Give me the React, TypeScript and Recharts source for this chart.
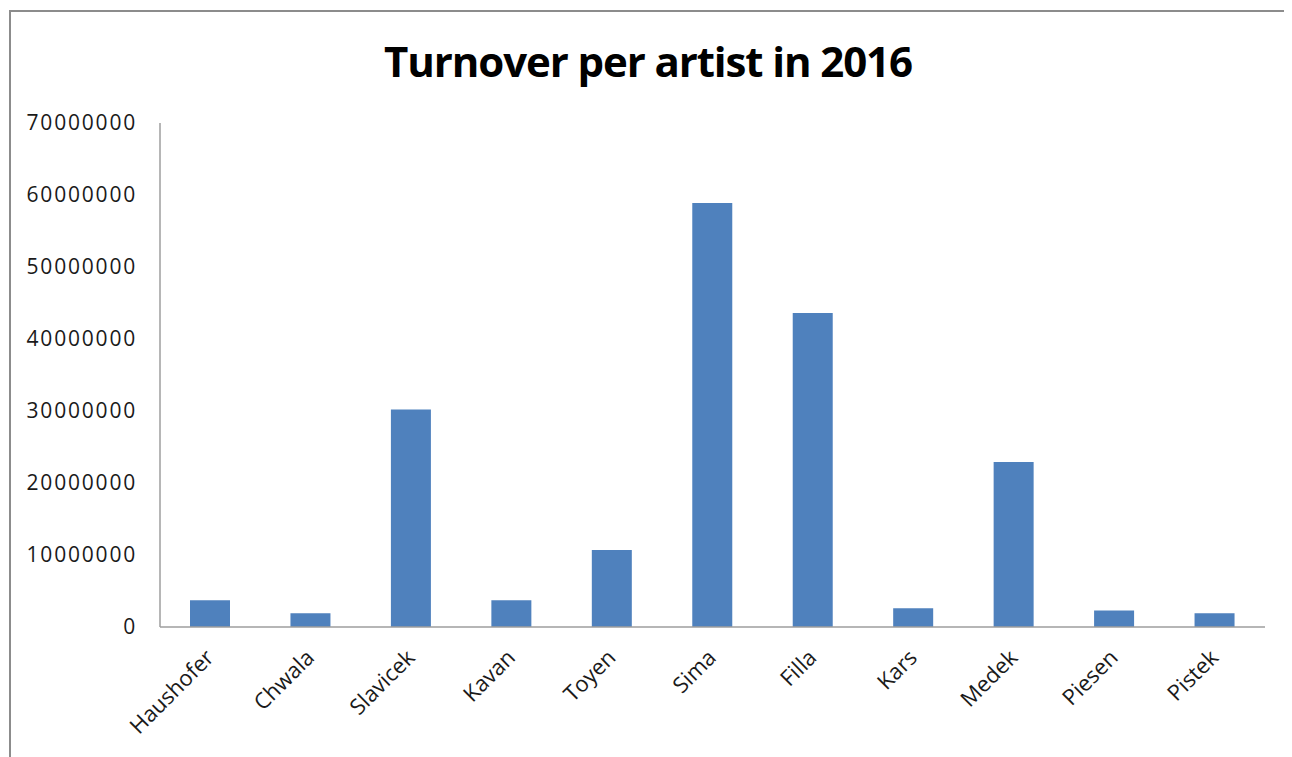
import React from "react";
import { BarChart, Bar, XAxis, YAxis } from "recharts";

const artists = [
  "Haushofer",
  "Chwala",
  "Slavicek",
  "Kavan",
  "Toyen",
  "Sima",
  "Filla",
  "Kars",
  "Medek",
  "Piesen",
  "Pistek",
];

const turnover = [
  3700000, 1900000, 30200000, 3700000, 10700000, 58900000, 43600000,
  2600000, 22900000, 2300000, 1900000,
];

const yTicks = [0, 10000000, 20000000, 30000000, 40000000, 50000000, 60000000, 70000000];

const data = artists.map((name, i) => ({ name, turnover: turnover[i] }));

const FONT = "'Open Sans', sans-serif";

function ArtistTick(props: any) {
  const { x, y, payload } = props;
  return (
    <g transform={`translate(${x + 5},${y + 24})`}>
      <text
        x={0}
        y={0}
        textAnchor="end"
        transform="rotate(-45)"
        fill="#1a1a1a"
        fontSize={22}
        fontFamily={FONT}
      >
        {payload.value}
      </text>
    </g>
  );
}

export default function App() {
  return (
    <div
      style={{
        position: "relative",
        marginLeft: 1,
        marginTop: 2,
        width: 1274,
        height: 760,
        border: "2px solid #8c8c8c",
        borderBottom: "none",
        background: "#fff",
      }}
    >
      <div
        style={{
          position: "absolute",
          left: 0,
          right: 0,
          top: 20,
          textAlign: "center",
          fontFamily: FONT,
          fontWeight: 700,
          fontSize: 42,
          color: "#000",
          letterSpacing: -1.1,
        }}
      >
        Turnover per artist in 2016
      </div>
      <BarChart
        width={1274}
        height={745}
        data={data}
        margin={{ top: 111, right: 20, bottom: 30, left: 0 }}
      >
        <YAxis
          width={149}
          domain={[0, 70000000]}
          ticks={yTicks}
          interval={0}
          axisLine={{ stroke: "#9e9e9e", strokeWidth: 1.5 }}
          tickLine={false}
          tickSize={6}
          tickMargin={17}
          tick={{ fill: "#1a1a1a", fontSize: 21, fontFamily: FONT, letterSpacing: 1.8 }}
        />
        <XAxis
          dataKey="name"
          height={100}
          interval={0}
          axisLine={{ stroke: "#9e9e9e", strokeWidth: 1.5 }}
          tickLine={false}
          tick={<ArtistTick />}
        />
        <Bar dataKey="turnover" fill="#4f81bd" barSize={40} isAnimationActive={false} />
      </BarChart>
    </div>
  );
}
